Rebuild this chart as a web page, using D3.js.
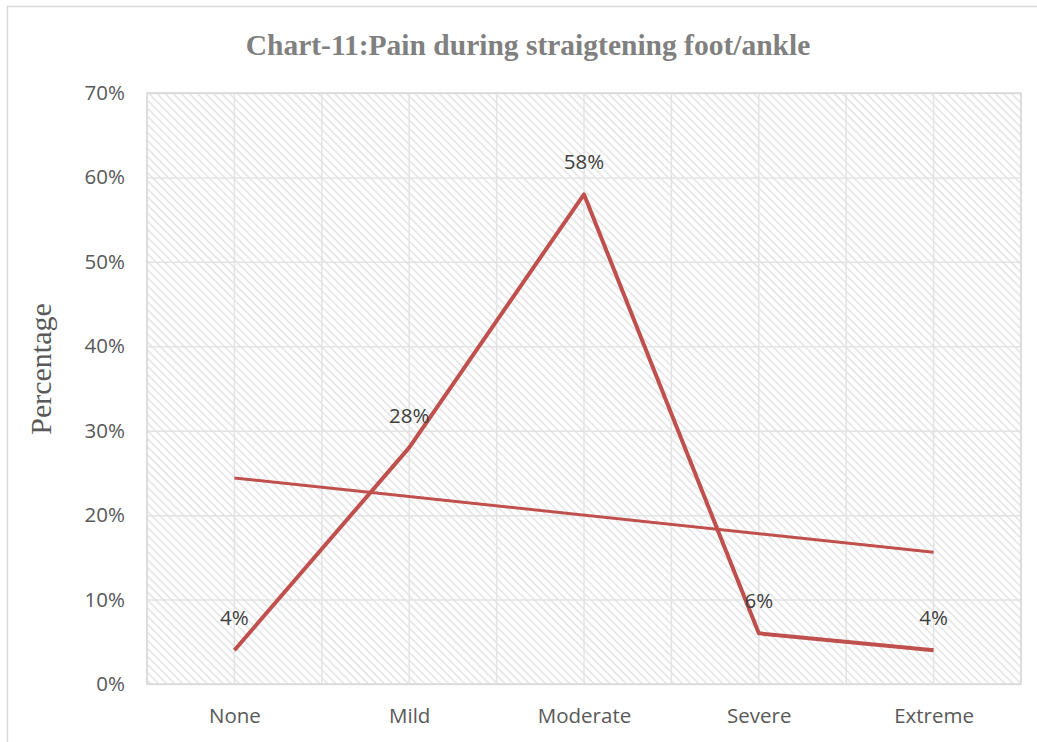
<!DOCTYPE html>
<html>
<head>
<meta charset="utf-8">
<script src="https://cdn.jsdelivr.net/npm/d3@7"></script>
<style>
  html, body { margin: 0; padding: 0; background: #fff; }
  svg { display: block; }
</style>
</head>
<body>
<svg id="chart" width="1037" height="742"></svg>
<script>
// Pain severity categories and the share of respondents in each
const categories = ["None", "Mild", "Moderate", "Severe", "Extreme"];
const percentages = [4, 28, 58, 6, 4];
const yTicks = [0, 10, 20, 30, 40, 50, 60, 70];
const chartTitle = "Chart-11:Pain during straigtening foot/ankle";
const yAxisTitle = "Percentage";

const svg = d3.select("#chart");
const W = 1037, H = 742;
const plot = { left: 147, right: 1021, top: 93, bottom: 684 };
const labelFont = "'Open Sans', sans-serif";
const labelSize = "20.5px";

// Diagonal hatch fill for the plot area
const defs = svg.append("defs");
const pat = defs.append("pattern")
  .attr("id", "hatch")
  .attr("patternUnits", "userSpaceOnUse")
  .attr("width", 5.7).attr("height", 5.7)
  .attr("patternTransform", "rotate(45)");
pat.append("rect").attr("width", 5.7).attr("height", 5.7).attr("fill", "#fff");
pat.append("line")
  .attr("x1", 0).attr("y1", 0).attr("x2", 5.7).attr("y2", 0)
  .attr("stroke", "#e2e2e2").attr("stroke-width", 2.9);

// Outer chart border
svg.append("rect")
  .attr("x", 7.5).attr("y", 6.5)
  .attr("width", W + 20).attr("height", H + 20)
  .attr("fill", "none").attr("stroke", "#d9d9d9").attr("stroke-width", 1.5);

const x = d3.scalePoint()
  .domain(categories)
  .range([plot.left, plot.right])
  .padding(0.5);
const y = d3.scaleLinear()
  .domain([0, 70])
  .range([plot.bottom, plot.top]);

// Plot background
svg.append("rect")
  .attr("x", plot.left).attr("y", plot.top)
  .attr("width", plot.right - plot.left).attr("height", plot.bottom - plot.top)
  .attr("fill", "url(#hatch)");

// Vertical gridlines at category centres and category boundaries
const step = x.step();
const vLines = [];
categories.forEach(c => {
  vLines.push(x(c) - step / 2);
  vLines.push(x(c));
});
vLines.push(plot.right);
svg.append("g").selectAll("line")
  .data(vLines)
  .join("line")
  .attr("x1", d => d).attr("x2", d => d)
  .attr("y1", plot.top).attr("y2", plot.bottom)
  .attr("stroke", "#e3e3e3").attr("stroke-width", 1.5);

// Horizontal gridlines via the y axis
const yAxis = d3.axisLeft(y)
  .tickValues(yTicks)
  .tickSize(-(plot.right - plot.left))
  .tickPadding(22)
  .tickFormat(d => d + "%");
const gy = svg.append("g")
  .attr("transform", `translate(${plot.left},0)`)
  .call(yAxis);
gy.select(".domain").remove();
gy.selectAll(".tick line").attr("stroke", "#e3e3e3").attr("stroke-width", 1.5);
gy.selectAll(".tick text")
  .attr("fill", "#595959")
  .style("font-family", labelFont)
  .style("font-size", labelSize);

// Plot area border
svg.append("rect")
  .attr("x", plot.left).attr("y", plot.top)
  .attr("width", plot.right - plot.left).attr("height", plot.bottom - plot.top)
  .attr("fill", "none").attr("stroke", "#d9d9d9").attr("stroke-width", 1.5);

// Category axis labels
const xAxis = d3.axisBottom(x).tickSize(0).tickPadding(24);
const gx = svg.append("g")
  .attr("transform", `translate(0,${plot.bottom})`)
  .call(xAxis);
gx.select(".domain").remove();
gx.selectAll(".tick text")
  .attr("fill", "#595959")
  .style("font-family", labelFont)
  .style("font-size", labelSize);

const data = categories.map((c, i) => ({ cat: c, idx: i + 1, val: percentages[i] }));

// Linear trendline (least squares over category index)
const n = data.length;
const mx = d3.mean(data, d => d.idx);
const my = d3.mean(data, d => d.val);
const slope = d3.sum(data, d => (d.idx - mx) * (d.val - my)) / d3.sum(data, d => (d.idx - mx) ** 2);
const intercept = my - slope * mx;
const trend = [data[0], data[n - 1]].map(d => ({ cat: d.cat, val: intercept + slope * d.idx }));

const line = d3.line().x(d => x(d.cat)).y(d => y(d.val));

svg.append("path")
  .datum(trend)
  .attr("d", line)
  .attr("fill", "none")
  .attr("stroke", "#c0504d")
  .attr("stroke-width", 3);

// Main series
svg.append("path")
  .datum(data)
  .attr("d", line)
  .attr("fill", "none")
  .attr("stroke", "#c0504d")
  .attr("stroke-width", 4)
  .attr("stroke-linejoin", "round");

// Value labels above each point
svg.append("g").selectAll("text")
  .data(data)
  .join("text")
  .attr("x", d => x(d.cat))
  .attr("y", d => y(d.val) - 25)
  .attr("text-anchor", "middle")
  .attr("fill", "#404040")
  .style("font-family", labelFont)
  .style("font-size", labelSize)
  .text(d => d.val + "%");

// Chart title
svg.append("text")
  .attr("x", 528).attr("y", 55)
  .attr("text-anchor", "middle")
  .attr("fill", "#808080")
  .style("font-family", "'Liberation Serif', 'Times New Roman', serif")
  .style("font-weight", "bold")
  .style("font-size", "29.5px")
  .text(chartTitle);

// Y axis title
svg.append("text")
  .attr("transform", `translate(51,369) rotate(-90)`)
  .attr("text-anchor", "middle")
  .attr("fill", "#595959")
  .style("font-family", "'Liberation Serif', 'Times New Roman', serif")
  .style("font-size", "30px")
  .text(yAxisTitle);
</script>
</body>
</html>
